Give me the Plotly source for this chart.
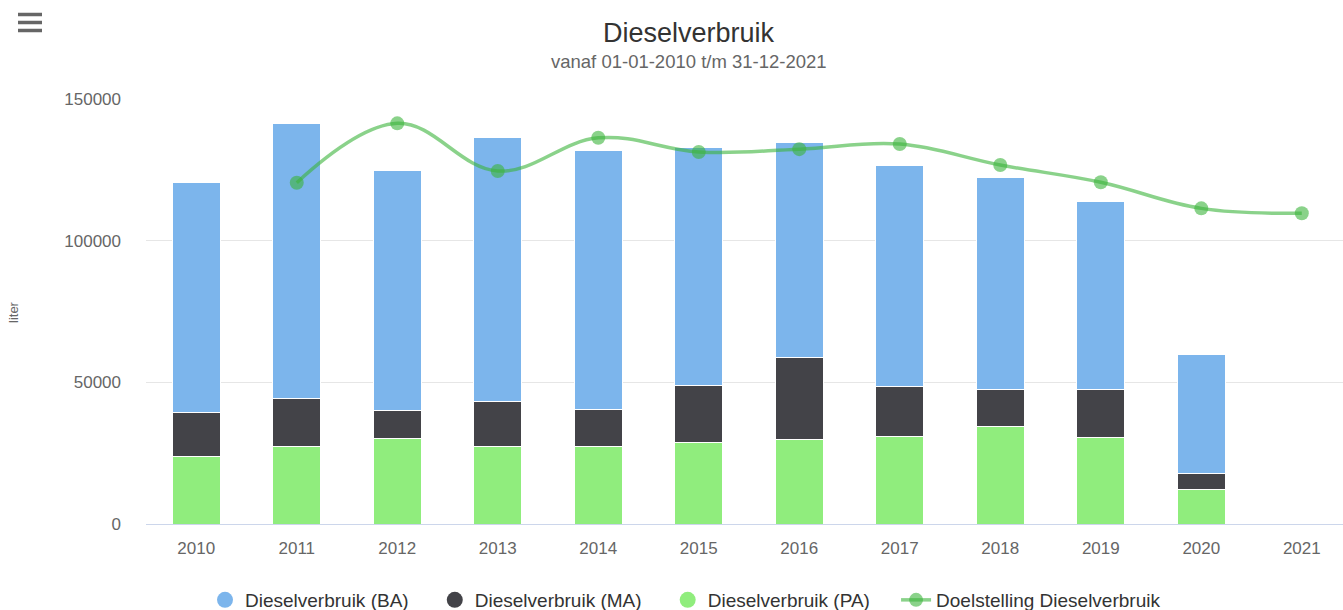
import plotly.graph_objects as go

years = ["2010", "2011", "2012", "2013", "2014", "2015", "2016", "2017", "2018", "2019", "2020", "2021"]
verbruik_pa = [24000, 27500, 30200, 27500, 27500, 28700, 29900, 31000, 34300, 30500, 12200, None]
verbruik_ma = [15300, 16850, 9700, 15650, 13000, 20350, 28800, 17450, 13000, 16800, 5700, None]
verbruik_ba = [81200, 97050, 85000, 93150, 91250, 83900, 76000, 78250, 74950, 66450, 41750, None]
doel_years = ["2011", "2012", "2013", "2014", "2015", "2016", "2017", "2018", "2019", "2020", "2021"]
doelstelling = [120450, 141400, 124600, 136300, 131300, 132300, 134100, 126700, 120600, 111400, 109700]
y_ticks = [0, 50000, 100000, 150000]
series_names = ["Dieselverbruik (BA)", "Dieselverbruik (MA)", "Dieselverbruik (PA)", "Doelstelling Dieselverbruik"]

C_BA = "#7cb5ec"
C_MA = "#434348"
C_PA = "#90ed7d"
C_LINE = "rgba(60,180,60,0.6)"
FONT = "Liberation Sans, Arial, sans-serif"
LEGEND_PAD = "\u00a0" * 4  # item distance in the legend

# Figure is taller than the window (legend is cut at the bottom like the original);
# page margin/scrollbars are removed by a small post script.
W, H = 1343, 640
L, R, T = 146, 0, 99
PLOT_BOTTOM = 524
B = H - PLOT_BOTTOM
PW = W - L - R
PH = PLOT_BOTTOM - T

def px_x(p):
    return (p - L) / PW

def px_y(p):
    return (PLOT_BOTTOM - p) / PH

fig = go.Figure()
for name, vals, col in [(series_names[2], verbruik_pa, C_PA),
                        (series_names[1], verbruik_ma, C_MA),
                        (series_names[0], verbruik_ba, C_BA)]:
    fig.add_trace(go.Bar(x=years, y=vals, name=name, marker=dict(color=col, line=dict(color="white", width=1)),
                         showlegend=False))

for name, col in [(series_names[0], C_BA), (series_names[1], C_MA), (series_names[2], C_PA)]:
    fig.add_trace(go.Scatter(x=[None], y=[None], mode="markers", name=name + LEGEND_PAD,
                             marker=dict(color=col, size=17, symbol="circle"), showlegend=True))

fig.add_trace(go.Scatter(x=doel_years, y=doelstelling, mode="lines+markers", name=series_names[3],
                         line=dict(color=C_LINE, width=3.5, shape="spline", smoothing=1.1),
                         marker=dict(color=C_LINE, size=14)))

fig.update_layout(
    width=W, height=H,
    margin=dict(l=L, r=R, t=T, b=B),
    paper_bgcolor="white", plot_bgcolor="white",
    barmode="stack", bargap=0.52,
    font=dict(family=FONT, color="#333333"),
    showlegend=True,
    legend=dict(orientation="h", x=px_x(205), xanchor="left", y=px_y(600), yanchor="middle",
                font=dict(size=19, color="#333333", family=FONT),
                traceorder="normal", bgcolor="rgba(0,0,0,0)"),
    xaxis=dict(type="category", categoryorder="array", categoryarray=years, range=[-0.5, 11.41],
               showgrid=False, showline=True, linecolor="#ccd6eb", linewidth=1, ticks="",
               tickfont=dict(size=17, color="#666666", family=FONT), ticklabelstandoff=9, fixedrange=True),
    yaxis=dict(range=[0, 150000], tickvals=y_ticks, ticktext=[str(v) for v in y_ticks],
               showgrid=True, gridcolor="#e6e6e6", gridwidth=1, zeroline=False, showline=False, ticks="",
               tickfont=dict(size=17, color="#666666", family=FONT), ticklabelstandoff=24, fixedrange=True),
    annotations=[
        dict(text="Dieselverbruik", xref="paper", yref="paper", x=px_x(689), y=px_y(33), xanchor="center",
             yanchor="middle", showarrow=False, font=dict(size=27, color="#333333", family=FONT)),
        dict(text="vanaf 01-01-2010 t/m 31-12-2021", xref="paper", yref="paper", x=px_x(689), y=px_y(61),
             xanchor="center", yanchor="middle", showarrow=False, font=dict(size=18.5, color="#666666", family=FONT)),
        dict(text="liter", xref="paper", yref="paper", x=px_x(13), y=px_y(312), xanchor="center", yanchor="middle",
             textangle=-90, showarrow=False, font=dict(size=13, color="#666666", family=FONT)),
    ],
    shapes=[dict(type="line", xref="paper", yref="paper", x0=px_x(18), x1=px_x(42), y0=px_y(yy), y1=px_y(yy),
                 line=dict(color="#666666", width=3.5)) for yy in (14.5, 22.5, 30.5)],
)

fig.write_html(
    "out.html",
    config={"displayModeBar": False},
    post_script="document.documentElement.style.overflow='hidden';"
                "document.body.style.margin='0';document.body.style.overflow='hidden';",
)
